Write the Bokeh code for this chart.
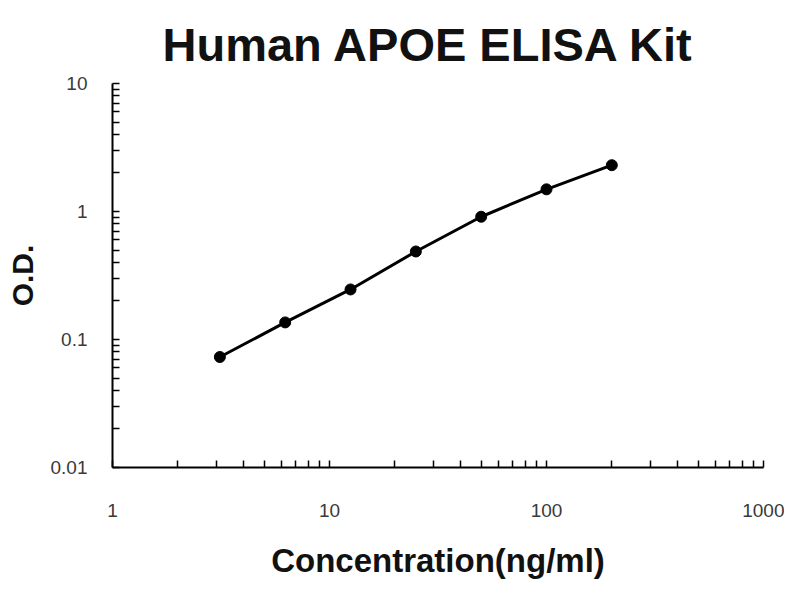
from bokeh.plotting import figure
from bokeh.models import FixedTicker
from bokeh.embed import file_html
from bokeh.resources import INLINE

# standard curve values
conc = [3.125, 6.25, 12.5, 25, 50, 100, 200]
od = [0.073, 0.136, 0.246, 0.487, 0.91, 1.49, 2.3]

x_ticks = [1, 10, 100, 1000]
x_tick_labels = ["1", "10", "100", "1000"]
y_ticks = [0.01, 0.1, 1, 10]
y_tick_labels = ["0.01", "0.1", "1", "10"]


def minor_ticks(majors):
    out = []
    for m in majors[:-1]:
        out += [m * k for k in range(2, 10)]
    return out


p = figure(width=784, height=584, x_axis_type="log", y_axis_type="log",
           x_range=(1, 1000), y_range=(0.01, 10),
           title="Human APOE ELISA Kit",
           x_axis_label="Concentration(ng/ml)", y_axis_label="O.D.",
           output_backend="svg", toolbar_location=None,
           min_border_left=112, min_border_right=21,
           min_border_top=83, min_border_bottom=117)

p.outline_line_color = None
p.xgrid.visible = False
p.ygrid.visible = False

p.title.text_font = "Liberation Sans"
p.title.text_font_size = "47px"
p.title.text_font_style = "bold"
p.title.text_color = "#111111"
p.title.align = "left"
p.title.offset = 50
p.title.standoff = 25

p.xaxis.ticker = FixedTicker(ticks=x_ticks, minor_ticks=minor_ticks(x_ticks))
p.yaxis.ticker = FixedTicker(ticks=y_ticks, minor_ticks=minor_ticks(y_ticks))
p.xaxis.major_label_overrides = dict(zip(x_ticks, x_tick_labels))
p.yaxis.major_label_overrides = dict(zip(y_ticks, y_tick_labels))

for ax in (p.xaxis[0], p.yaxis[0]):
    ax.axis_line_width = 2
    ax.axis_line_color = "black"
    ax.major_tick_in = 7
    ax.major_tick_out = 0
    ax.minor_tick_in = 7
    ax.minor_tick_out = 0
    ax.major_tick_line_width = 1.5
    ax.minor_tick_line_width = 1.5
    ax.major_tick_line_color = "black"
    ax.minor_tick_line_color = "black"
    ax.major_label_text_font = "Liberation Sans"
    ax.major_label_text_font_size = "19px"
    ax.major_label_text_color = "#3a3a3a"
    ax.axis_label_text_font = "Liberation Sans"
    ax.axis_label_text_font_style = "bold"
    ax.axis_label_text_color = "#111111"

p.xaxis.axis_label_text_font_size = "33px"
p.yaxis.axis_label_text_font_size = "30px"
p.xaxis.major_label_standoff = 36
p.xaxis.axis_label_standoff = 22
p.yaxis.major_label_standoff = 25
p.yaxis.axis_label_standoff = 9

p.line(conc, od, line_width=3, color="black")
p.scatter(conc, od, size=11, color="black")

open("out.html", "w").write(file_html(p, INLINE))
